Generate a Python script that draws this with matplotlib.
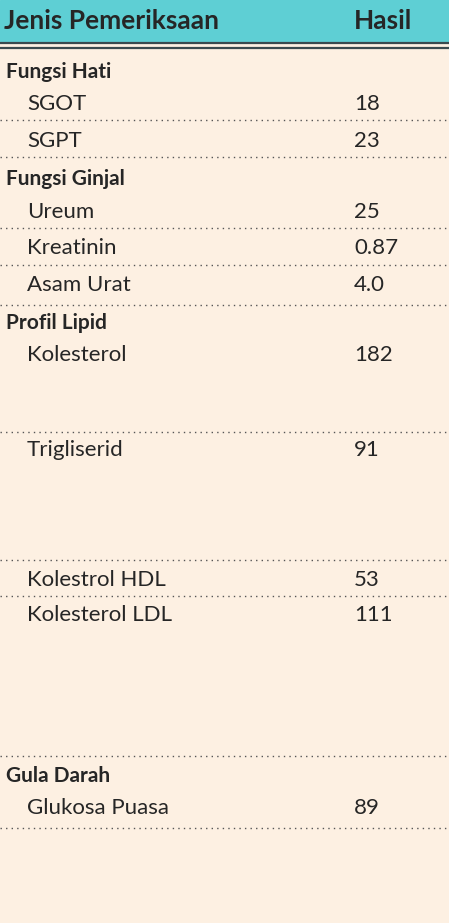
import matplotlib
matplotlib.use("Agg")
import matplotlib.pyplot as plt
from matplotlib.patches import Rectangle

headers = ["Jenis Pemeriksaan", "Hasil"]
# (label, value, y-pixel of text center)
rows = [
    ("Fungsi Hati", None, 70),
    ("SGOT", "18", 102),
    ("SGPT", "23", 139),
    ("Fungsi Ginjal", None, 177),
    ("Ureum", "25", 210),
    ("Kreatinin", "0.87", 246),
    ("Asam Urat", "4.0", 283),
    ("Profil Lipid", None, 321),
    ("Kolesterol", "182", 353),
    ("Trigliserid", "91", 448),
    ("Kolestrol HDL", "53", 578),
    ("Kolesterol LDL", "111", 613),
    ("Gula Darah", None, 774),
    ("Glukosa Puasa", "89", 806),
]
dotted_lines = [120, 157, 228, 265, 305, 432, 560, 596, 756, 828]

W, H = 449, 923
fig = plt.figure(figsize=(W/100, H/100), dpi=100)
fig.patch.set_facecolor("#FDF0E2")
ax = fig.add_axes([0, 0, 1, 1])
ax.set_xlim(0, W); ax.set_ylim(H, 0); ax.axis("off")
ax.add_patch(Rectangle((0, 0), W, 41, color="#5ECFD4"))
ax.plot([0, W], [43, 43], color="#3a4a4e", lw=1.6)
ax.plot([0, W], [47.5, 47.5], color="#3a4a4e", lw=1.6)
fam = ["Lato", "DejaVu Sans"]
tc = "#262626"
ax.text(4, 21, headers[0], fontsize=19, fontweight="bold", family=fam, color=tc, va="center")
ax.text(354, 21, headers[1], fontsize=19, fontweight="bold", family=fam, color=tc, va="center")
for label, val, y in rows:
    if val is None:
        ax.text(6, y + 2, label, fontsize=15, fontweight="bold", family=fam, color=tc, va="center")
    else:
        ax.text(27, y + 2, label, fontsize=16, family=fam, color=tc, va="center")
        ax.text(354, y + 2, val, fontsize=16, family=fam, color=tc, va="center")
for y in dotted_lines:
    ax.plot([0, W], [y, y], color="#555555", lw=1, linestyle=(0, (1, 3)))
fig.savefig("out.png", dpi=100, facecolor=fig.get_facecolor())
